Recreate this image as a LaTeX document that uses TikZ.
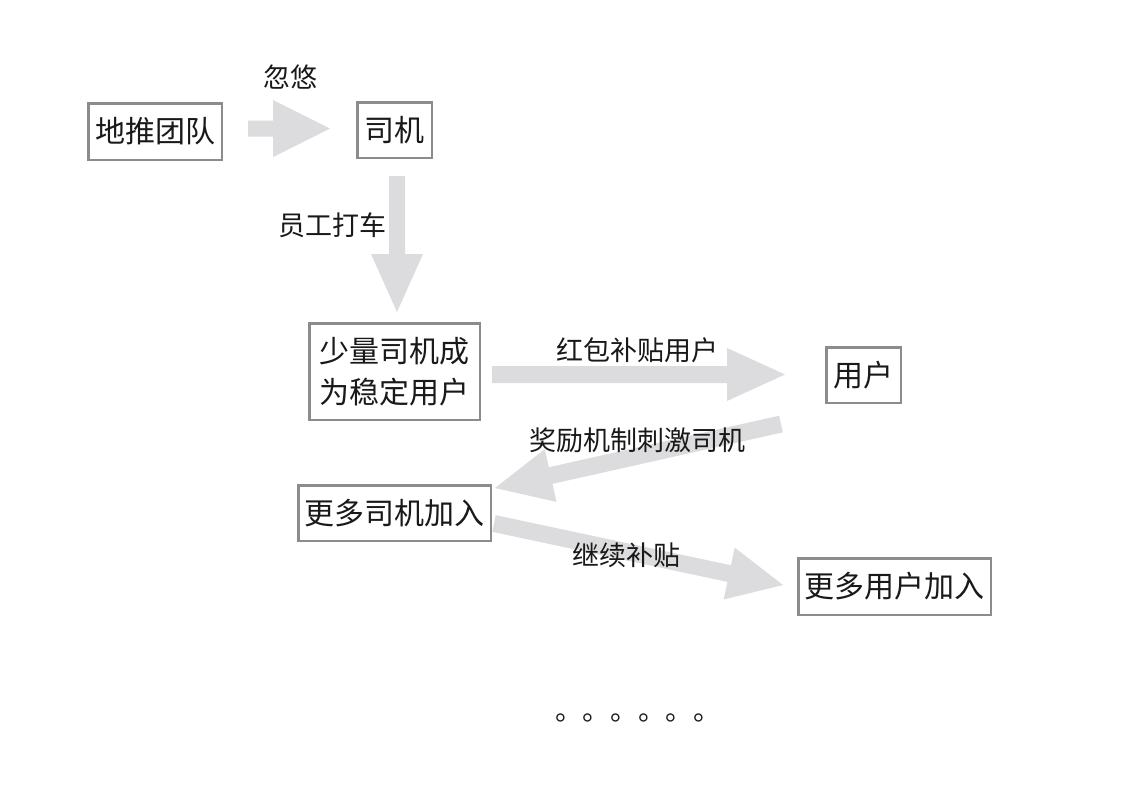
\documentclass[tikz,border=0pt]{standalone}
\usepackage{fontspec}
\setmainfont{Noto Sans CJK SC}
\usetikzlibrary{calc}
\definecolor{arrowgrey}{RGB}{220,220,222}
\definecolor{boxgrey}{RGB}{140,140,140}
\definecolor{inkc}{RGB}{25,25,25}
\newcommand\fatarrow[5]{%
  \coordinate (hb) at ($(#2)!#3!(#1)$);
  \fill[arrowgrey] ($(#1)!#5!90:(#2)$) -- ($(hb)!#5!90:(#2)$) -- ($(hb)!#4!90:(#2)$) -- (#2)
    -- ($(hb)!#4!-90:(#2)$) -- ($(hb)!#5!-90:(#2)$) -- ($(#1)!#5!-90:(#2)$) -- cycle;
}
\begin{document}
\begin{tikzpicture}[x=1pt,y=-1pt,
  box/.style={draw=boxgrey,line width=2.5pt,fill=white,inner sep=0pt,text=inkc,
    font=\fontsize{30}{41}\selectfont,align=center},
  lbl/.style={text=inkc,inner sep=0pt,font=\fontsize{27}{32}\selectfont}]
\useasboundingbox[fill=white] (0,0) rectangle (1130,788);
% arrows (drawn first)
\coordinate (a1s) at (248,128.5); \coordinate (a1t) at (330,128.5);
\coordinate (a2s) at (397,176);   \coordinate (a2t) at (397,312);
\coordinate (a3s) at (492,374.5); \coordinate (a3t) at (785,374.5);
\coordinate (a4s) at (781,424);   \coordinate (a4t) at (495,488);
\coordinate (a5s) at (494,523.5); \coordinate (a5t) at (783,585);
\fatarrow{a1s}{a1t}{57pt}{28.5pt}{8pt}
\fatarrow{a2s}{a2t}{58pt}{26pt}{8pt}
\fatarrow{a3s}{a3t}{58pt}{26.5pt}{8.5pt}
\fatarrow{a4s}{a4t}{57pt}{27pt}{8.5pt}
\fatarrow{a5s}{a5t}{55pt}{26.5pt}{8.5pt}
% boxes
\node[box,minimum width=133.5pt,minimum height=56.5pt] (dt) at (155,131.5) {地推团队};
\node[box,minimum width=74.5pt,minimum height=55.5pt] (sj) at (394.5,130) {司机};
\node[box,minimum width=170.5pt,minimum height=96.5pt] (sl) at (394.5,371.5) {少量司机成\\为稳定用户};
\node[box,minimum width=74.5pt,minimum height=55.5pt] (yh) at (863.5,375) {用户};
\node[box,minimum width=192.5pt,minimum height=55.5pt] (gd) at (394.5,513) {更多司机加入};
\node[box,minimum width=192.5pt,minimum height=56.5pt] (gy) at (894.5,586.5) {更多用户加入};
% labels
\node[lbl] (l1) at (290,77) {忽悠};
\node[lbl] (l2) at (332,225) {员工打车};
\node[lbl] (l3) at (637,350) {红包补贴用户};
\node[lbl] (l4) at (637,440) {奖励机制刺激司机};
\node[lbl] (l5) at (626,555) {继续补贴};
\node[lbl,anchor=base west,font=\fontsize{27.6}{30}\selectfont] (dots) at (555,720) {。。。。。。};
\end{tikzpicture}
\end{document}
